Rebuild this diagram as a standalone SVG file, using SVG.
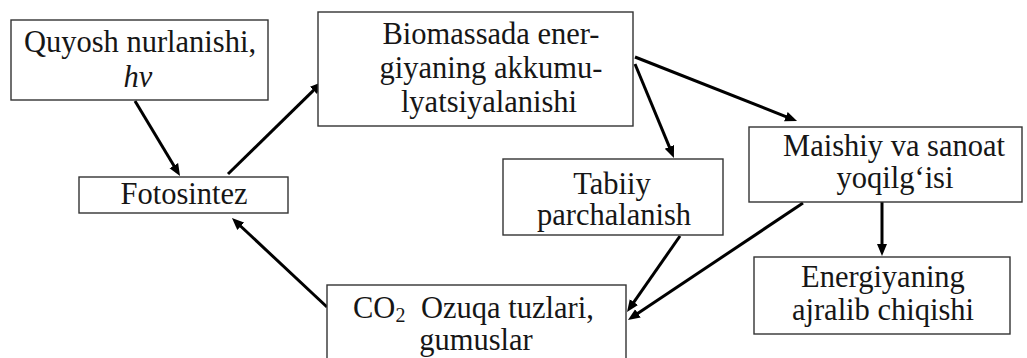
<svg xmlns="http://www.w3.org/2000/svg" width="1027" height="358" viewBox="0 0 1027 358">
<style>
.box{fill:#fff;stroke:#333;stroke-width:1.4}
.t{font-family:'Liberation Serif','DejaVu Serif',serif;font-size:30.5px;fill:#161616;text-anchor:middle}
.s{text-anchor:start}
.c{fill:none;stroke:#000;stroke-width:3}
</style>
<defs>
<marker id="ah" markerUnits="userSpaceOnUse" markerWidth="13" markerHeight="11" refX="4" refY="5" orient="auto" viewBox="0 0 13 10">
<path d="M0,0 L12,5 L0,10 z" fill="#000"/>
</marker>
</defs>
<rect width="1027" height="358" fill="#fff"/>
<g id="connectors">
<line class="c" x1="135" y1="101" x2="175.9" y2="169.1" marker-end="url(#ah)"/>
<line class="c" x1="228" y1="174" x2="316.3" y2="87.6" marker-end="url(#ah)"/>
<line class="c" x1="635" y1="64" x2="670.9" y2="150.6" marker-end="url(#ah)"/>
<line class="c" x1="635" y1="57" x2="789.6" y2="118.1" marker-end="url(#ah)"/>
<line class="c" x1="882" y1="202" x2="882" y2="248" marker-end="url(#ah)"/>
<line class="c" x1="680" y1="236" x2="631.6" y2="305.4" marker-end="url(#ah)"/>
<line class="c" x1="803" y1="203" x2="634.6" y2="315.6" marker-end="url(#ah)"/>
<line class="c" x1="327" y1="307" x2="237.8" y2="223.5" marker-end="url(#ah)"/>
</g>
<g id="quyosh">
<rect class="box" x="11" y="20" width="257" height="80"/>
<text class="t" x="140" y="52">Quyosh nurlanishi,</text>
<text class="t" x="138" y="87" font-style="italic">hv</text>
</g>
<g id="fotosintez">
<rect class="box" x="79" y="177" width="209" height="36"/>
<text class="t" x="184" y="204">Fotosintez</text>
</g>
<g id="biomassada">
<rect class="box" x="318" y="12" width="315" height="114"/>
<text class="t" x="491" y="44">Biomassada ener-</text>
<text class="t" x="491" y="78">giyaning akkumu-</text>
<text class="t" x="489" y="112">lyatsiyalanishi</text>
</g>
<g id="tabiiy">
<rect class="box" x="503" y="159" width="220" height="76"/>
<text class="t" x="612" y="194">Tabiiy</text>
<text class="t" x="614" y="225">parchalanish</text>
</g>
<g id="maishiy">
<rect class="box" x="749" y="127" width="273" height="75"/>
<text class="t" x="894" y="156">Maishiy va sanoat</text>
<text class="t" x="895" y="188">yoqilg‘isi</text>
</g>
<g id="energiyaning">
<rect class="box" x="754" y="257" width="256" height="77"/>
<text class="t" x="883" y="287">Energiyaning</text>
<text class="t" x="883" y="320">ajralib chiqishi</text>
</g>
<g id="co2">
<rect class="box" x="327" y="285" width="299" height="80"/>
<text class="t s" x="353" y="318">CO<tspan font-size="20" dy="4">2</tspan><tspan x="421" dy="-4">Ozuqa tuzlari,</tspan></text>
<text class="t" x="476" y="350">gumuslar</text>
</g>
</svg>
